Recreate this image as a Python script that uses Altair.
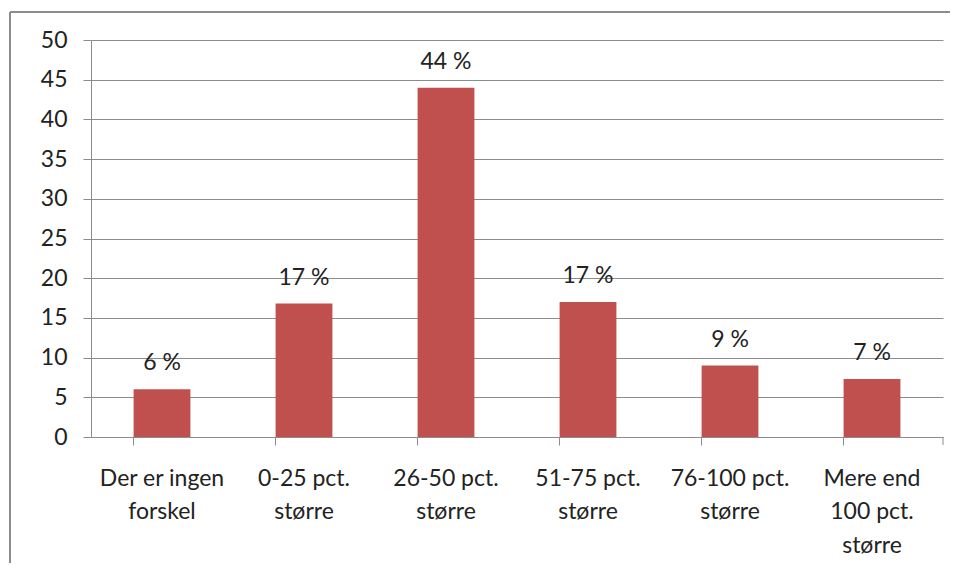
import altair as alt
import pandas as pd

categories = ["Der er ingen\nforskel", "0-25 pct.\nstørre", "26-50 pct.\nstørre",
              "51-75 pct.\nstørre", "76-100 pct.\nstørre", "Mere end\n100 pct.\nstørre"]
values = [6.0, 16.8, 44.0, 17.0, 9.0, 7.3]
labels = ["6 %", "17 %", "44 %", "17 %", "9 %", "7 %"]
y_ticks = [0, 5, 10, 15, 20, 25, 30, 35, 40, 45, 50]

df = pd.DataFrame({"cat": categories, "v": values, "lab": labels})

FONT = "Lato"
GREY = "#8c8c8c"
FS = 23

x = alt.X("cat:N", sort=categories, title=None,
          scale=alt.Scale(paddingInner=0.6, paddingOuter=0.3),
          axis=alt.Axis(labelExpr="split(datum.value, '\\n')", labelAngle=0,
                        labelFontSize=FS, labelFont=FONT, labelColor="#222",
                        labelLineHeight=33.5, labelPadding=22, tickSize=8,
                        bandPosition=0, tickColor=GREY, domainColor=GREY,
                        labelBaseline="top", grid=False))
y = alt.Y("v:Q", title=None,
          scale=alt.Scale(domain=[0, 50], nice=False),
          axis=alt.Axis(values=y_ticks, labelFontSize=FS, labelFont=FONT,
                        labelColor="#222", tickSize=8, labelPadding=16,
                        labelOverlap=False,
                        tickColor=GREY, domainColor=GREY, gridColor=GREY,
                        gridWidth=1))

base = alt.Chart(df)
bars = base.mark_bar(color="#C0504D").encode(x=x, y=y)
text = base.mark_text(fontSize=FS, font=FONT, color="#222", dy=-19,
                      baseline="alphabetic").encode(x=x, y=y, text="lab:N")

one = alt.Chart(pd.DataFrame({"a": [0]}))
frame_top = one.mark_rule(color=GREY, strokeWidth=2).encode(
    x=alt.value(-81), x2=alt.value(870), y=alt.value(-28))
frame_left = one.mark_rule(color=GREY, strokeWidth=2).encode(
    x=alt.value(-81), y=alt.value(-28), y2=alt.value(530))
endtick = one.mark_rule(color=GREY).encode(
    x=alt.value(852), y=alt.value(397), y2=alt.value(405))

chart = alt.layer(frame_top, frame_left, bars, text, endtick).properties(
    width=852, height=397,
    autosize=alt.AutoSizeParams(type="none"),
    padding={"left": 83, "top": 32, "right": 7, "bottom": 126},
).configure_view(stroke=None)

chart.save("out.html", embed_options={"renderer": "svg", "actions": False})
